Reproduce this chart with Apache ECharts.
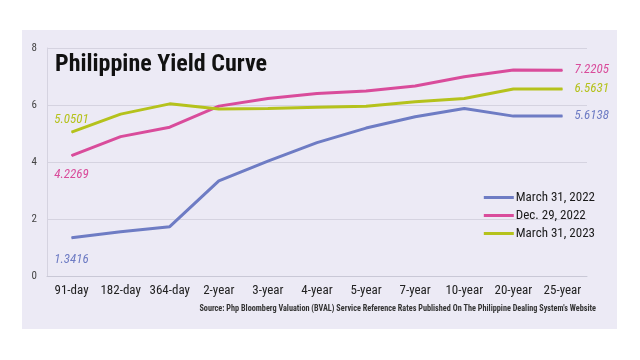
<!DOCTYPE html>
<html><head><meta charset="utf-8">
<script src="https://cdn.jsdelivr.net/npm/echarts@6/dist/echarts.min.js"></script>
<style>html,body{margin:0;padding:0;background:#fff}#c{width:640px;height:360px}</style>
</head><body><div id="c"></div>
<script>
const categories = ['91-day','182-day','364-day','2-year','3-year','4-year','5-year','7-year','10-year','20-year','25-year'];
const march2022 = [1.3416, 1.55, 1.73, 3.34, 4.03, 4.68, 5.19, 5.59, 5.88, 5.61, 5.6138];
const dec2022 = [4.2269, 4.89, 5.22, 5.96, 6.23, 6.40, 6.49, 6.67, 6.99, 7.23, 7.2205];
const march2023 = [5.0501, 5.68, 6.04, 5.86, 5.88, 5.92, 5.96, 6.11, 6.23, 6.56, 6.5631];
const seriesNames = ['March 31, 2022', 'Dec. 29, 2022', 'March 31, 2023'];
const yTicks = [0, 2, 4, 6, 8];

const colors = ['#6E7CC4', '#D94C9B', '#B5C21C'];
const narrow = '"Roboto Condensed", "Open Sans Condensed", sans-serif';
const chart = echarts.init(document.getElementById('c'));

function mkSeries(name, data, color, firstPos, firstDist) {
  return {
    name, type: 'line',
    data: data.map((v, i) => i === 0 ? {
      value: v,
      label: { show: true, position: firstPos, distance: firstDist, formatter: String(v),
        color, fontFamily: narrow, fontStyle: 'italic', fontSize: 13 }
    } : v),
    symbol: 'circle', symbolSize: 1, showSymbol: true,
    lineStyle: { color, width: 3 },
    itemStyle: { color },
    endLabel: { show: true, formatter: String(data[data.length - 1]), color, distance: 12,
      fontFamily: narrow, fontStyle: 'italic', fontSize: 13 },
    z: 3
  };
}

chart.setOption({
  backgroundColor: '#ffffff',
  animation: false,
  graphic: [
    { type: 'rect', shape: { x: 22, y: 30, width: 595, height: 299 }, style: { fill: '#ECEAF5' }, z: -10, silent: true },
    { type: 'text', left: 55, top: 53, z: 10, style: { text: 'Philippine Yield Curve', fill: '#111', font: 'bold 24px ' + narrow } },
    { type: 'text', right: 44, top: 305, z: 10, style: { text: "Source: Php Bloomberg Valuation (BVAL) Service Reference Rates Published On The Philippine Dealing System's Website", fill: '#333', font: 'bold 8.2px ' + narrow } }
  ],
  legend: {
    orient: 'vertical', right: 40, top: 186, itemWidth: 30, itemHeight: 3, itemGap: 5,
    icon: 'rect',
    data: seriesNames,
    textStyle: { fontFamily: narrow, fontSize: 13, color: '#1a1a1a', padding: [0, 0, 0, -3] }
  },
  grid: { left: 47, right: 53, top: 48, bottom: 84 },
  xAxis: {
    type: 'category', data: categories, boundaryGap: true,
    axisLine: { lineStyle: { color: '#C9C8D6', width: 1 } },
    axisTick: { inside: true, length: 8, lineStyle: { color: '#C9C8D6' } },
    axisLabel: { color: '#222', fontFamily: narrow, fontSize: 13, margin: 8, interval: 0 }
  },
  yAxis: {
    type: 'value', min: 0, max: 8, interval: 2,
    axisLine: { show: true, lineStyle: { color: '#D5D3E0' } },
    axisTick: { show: false },
    axisLabel: { color: '#444', fontFamily: narrow, fontSize: 11, margin: 10,
      formatter: v => yTicks.includes(v) ? String(v) : '' },
    splitLine: { lineStyle: { color: '#D5D3E0', width: 1 } }
  },
  series: [
    mkSeries(seriesNames[0], march2022, colors[0], 'bottom', 15),
    mkSeries(seriesNames[1], dec2022, colors[1], 'bottom', 12),
    mkSeries(seriesNames[2], march2023, colors[2], 'top', 5)
  ]
});
</script></body></html>
